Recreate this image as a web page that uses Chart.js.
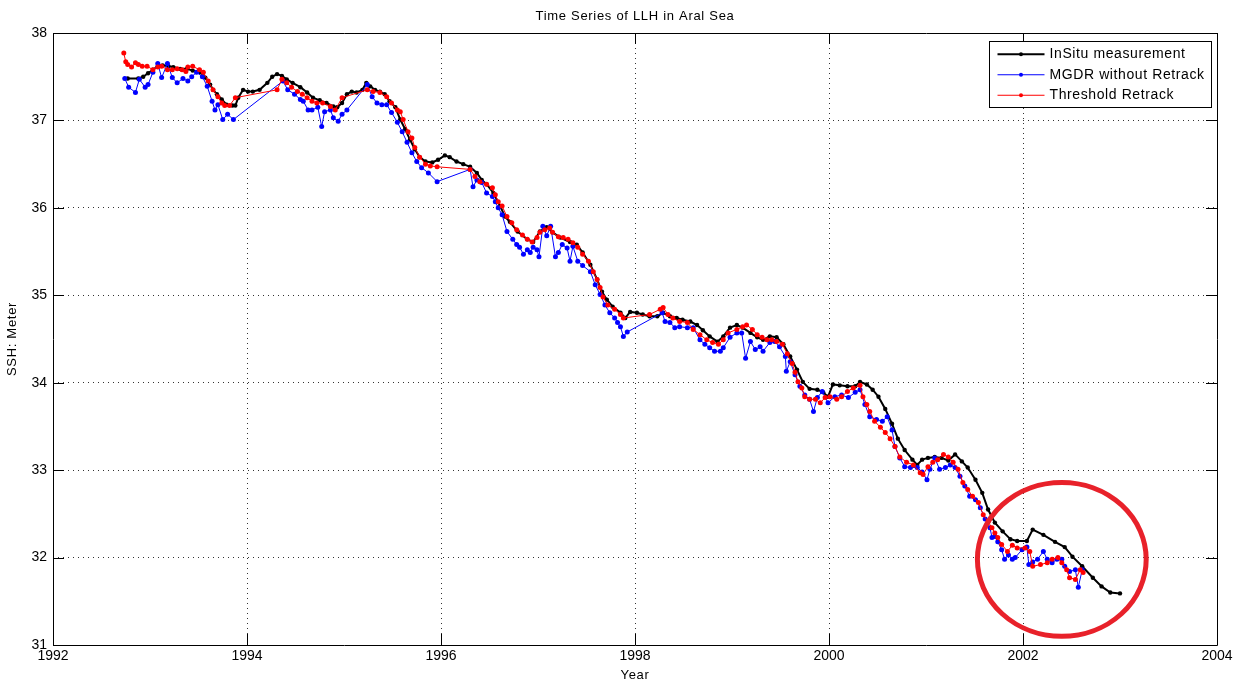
<!DOCTYPE html>
<html>
<head>
<meta charset="utf-8">
<title>Time Series of LLH in Aral Sea</title>
<script src="https://cdn.jsdelivr.net/npm/chart.js@4/dist/chart.umd.min.js"></script>
<style>
  html, body { margin: 0; padding: 0; background: #ffffff; }
  #wrap { width: 1239px; height: 681px; }
</style>
</head>
<body>
<div id="wrap"><canvas id="chart" width="1239" height="681"></canvas></div>
<script>
// ---- In-situ gauge record (decimal year, sea surface height in m) ----
const insituYear = [
  1992.77,1992.88,1992.93,1992.98,1993.03,1993.08,1993.13,1993.19,1993.24,1993.31,
  1993.38,1993.44,1993.52,1993.57,1993.62,1993.65,1993.69,1993.74,1993.79,1993.85,
  1993.88,1993.91,1993.96,1994.01,1994.06,1994.13,1994.21,1994.26,1994.31,1994.36,
  1994.41,1994.47,1994.55,1994.62,1994.68,1994.75,1994.82,1994.89,1994.93,1994.98,
  1995.03,1995.08,1995.13,1995.19,1995.23,1995.27,1995.32,1995.37,1995.42,1995.47,
  1995.53,1995.58,1995.63,1995.68,1995.73,1995.78,1995.84,1995.91,1995.97,1996.04,
  1996.09,1996.16,1996.23,1996.30,1996.37,1996.42,1996.47,1996.54,1996.61,1996.66,
  1996.71,1996.79,1996.89,1996.95,1997.02,1997.09,1997.15,1997.23,1997.33,1997.40,
  1997.46,1997.54,1997.61,1997.66,1997.71,1997.77,1997.85,1997.90,1997.95,1998.02,
  1998.08,1998.15,1998.23,1998.29,1998.36,1998.43,1998.49,1998.57,1998.64,1998.70,
  1998.77,1998.85,1998.91,1998.98,1999.05,1999.11,1999.19,1999.26,1999.32,1999.39,
  1999.46,1999.53,1999.60,1999.67,1999.73,1999.80,1999.88,1999.94,1999.99,2000.04,
  2000.11,2000.19,2000.27,2000.32,2000.39,2000.45,2000.51,2000.58,2000.65,2000.71,
  2000.78,2000.86,2000.91,2000.96,2001.02,2001.09,2001.16,2001.23,2001.30,2001.37,
  2001.43,2001.51,2001.58,2001.64,2001.71,2001.79,2001.87,2001.94,2002.04,2002.10,
  2002.21,2002.33,2002.43,2002.51,2002.61,2002.72,2002.81,2002.90,2003.00
];
const insituSSH = [
  37.48,37.48,37.50,37.54,37.58,37.62,37.63,37.62,37.61,37.59,
  37.59,37.57,37.55,37.49,37.41,37.35,37.30,37.24,37.18,37.17,
  37.17,37.26,37.35,37.33,37.33,37.35,37.43,37.50,37.53,37.51,
  37.47,37.43,37.38,37.32,37.26,37.23,37.20,37.16,37.15,37.20,
  37.30,37.33,37.32,37.35,37.43,37.39,37.35,37.33,37.30,37.22,
  37.15,37.01,36.90,36.78,36.67,36.58,36.53,36.52,36.55,36.60,
  36.58,36.53,36.50,36.47,36.40,36.32,36.27,36.17,36.02,35.90,
  35.84,35.73,35.64,35.61,35.73,35.78,35.72,35.66,35.61,35.58,
  35.49,35.35,35.18,35.04,34.95,34.87,34.80,34.74,34.81,34.80,
  34.78,34.76,34.76,34.80,34.76,34.74,34.72,34.70,34.66,34.60,
  34.53,34.47,34.53,34.63,34.66,34.63,34.57,34.52,34.49,34.53,
  34.52,34.44,34.30,34.15,34.01,33.93,33.92,33.89,33.84,33.98,
  33.97,33.96,33.96,34.01,33.98,33.92,33.84,33.70,33.53,33.36,
  33.23,33.12,33.06,33.12,33.14,33.15,33.14,33.11,33.18,33.10,
  33.03,32.89,32.74,32.55,32.40,32.30,32.21,32.19,32.19,32.32,
  32.26,32.18,32.12,32.01,31.90,31.77,31.67,31.60,31.59
];

// ---- Altimeter heights, MGDR without retracking ----
const mgdrYear = [
  1992.74,1992.78,1992.85,1992.89,1992.95,1992.98,1993.03,1993.08,1993.12,1993.18,
  1993.23,1993.28,1993.34,1993.39,1993.43,1993.48,1993.54,1993.59,1993.64,1993.67,
  1993.70,1993.75,1993.80,1993.86,1994.37,1994.42,1994.49,1994.55,1994.58,1994.63,
  1994.67,1994.73,1994.77,1994.80,1994.86,1994.89,1994.94,1994.98,1995.03,1995.24,
  1995.29,1995.34,1995.39,1995.44,1995.49,1995.55,1995.60,1995.65,1995.70,1995.75,
  1995.80,1995.87,1995.96,1996.30,1996.33,1996.37,1996.42,1996.47,1996.53,1996.56,
  1996.59,1996.63,1996.68,1996.74,1996.78,1996.81,1996.85,1996.89,1996.92,1996.95,
  1996.99,1997.01,1997.05,1997.09,1997.13,1997.18,1997.21,1997.25,1997.30,1997.33,
  1997.36,1997.41,1997.46,1997.54,1997.59,1997.64,1997.69,1997.74,1997.79,1997.82,
  1997.85,1997.88,1997.92,1998.28,1998.31,1998.36,1998.41,1998.46,1998.54,1998.60,
  1998.67,1998.72,1998.77,1998.82,1998.88,1998.91,1998.98,1999.05,1999.10,1999.14,
  1999.19,1999.24,1999.29,1999.32,1999.39,1999.44,1999.49,1999.55,1999.56,1999.60,
  1999.65,1999.70,1999.75,1999.80,1999.84,1999.88,1999.93,1999.99,2000.06,2000.13,
  2000.20,2000.27,2000.32,2000.37,2000.42,2000.49,2000.55,2000.60,2000.65,2000.68,
  2000.73,2000.78,2000.84,2000.91,2000.96,2001.01,2001.04,2001.09,2001.14,2001.20,
  2001.25,2001.30,2001.35,2001.40,2001.45,2001.51,2001.56,2001.61,2001.66,2001.68,
  2001.71,2001.74,2001.78,2001.81,2001.85,2001.89,2001.92,2001.99,2002.04,2002.06,
  2002.10,2002.15,2002.21,2002.25,2002.30,2002.35,2002.40,2002.43,2002.48,2002.54,
  2002.57,2002.61
];
const mgdrSSH = [
  37.48,37.38,37.32,37.47,37.38,37.41,37.55,37.65,37.49,37.65,
  37.49,37.43,37.48,37.45,37.50,37.55,37.50,37.39,37.22,37.12,
  37.18,37.01,37.07,37.01,37.45,37.35,37.30,37.24,37.22,37.12,
  37.12,37.15,36.93,37.10,37.12,37.03,36.99,37.07,37.12,37.41,
  37.27,37.20,37.18,37.18,37.09,36.98,36.87,36.75,36.63,36.53,
  36.46,36.40,36.30,36.44,36.24,36.32,36.29,36.17,36.13,36.07,
  36.00,35.92,35.73,35.64,35.58,35.55,35.47,35.52,35.49,35.55,
  35.52,35.44,35.79,35.68,35.79,35.44,35.49,35.58,35.54,35.39,
  35.56,35.39,35.34,35.27,35.12,35.01,34.89,34.80,34.74,34.69,
  34.64,34.53,34.58,34.80,34.70,34.69,34.63,34.64,34.63,34.63,
  34.49,34.44,34.40,34.36,34.36,34.40,34.52,34.57,34.57,34.28,
  34.47,34.38,34.41,34.36,34.46,34.47,34.41,34.30,34.13,34.24,
  34.09,33.96,33.86,33.81,33.67,33.83,33.90,33.77,33.84,33.86,
  33.83,33.89,33.92,33.75,33.61,33.58,33.56,33.61,33.46,33.27,
  33.14,33.04,33.03,33.03,32.98,32.89,33.01,33.14,33.01,33.03,
  33.06,33.03,32.93,32.82,32.70,32.66,32.57,32.44,32.34,32.23,
  32.24,32.18,32.09,31.98,32.03,31.98,32.00,32.09,32.12,31.92,
  31.95,31.98,32.07,31.98,31.94,31.98,31.98,31.90,31.84,31.86,
  31.66,31.86
];

// ---- Altimeter heights after threshold retracking ----
const thresholdYear = [
  1992.73,1992.75,1992.77,1992.81,1992.85,1992.88,1992.92,1992.97,1993.03,1993.08,
  1993.12,1993.18,1993.23,1993.28,1993.33,1993.37,1993.39,1993.44,1993.51,1993.55,
  1993.60,1993.65,1993.70,1993.74,1993.77,1993.82,1993.88,1994.31,1994.36,1994.41,
  1994.46,1994.52,1994.57,1994.62,1994.67,1994.72,1994.78,1994.86,1994.91,1994.98,
  1995.24,1995.30,1995.37,1995.44,1995.49,1995.55,1995.58,1995.61,1995.66,1995.70,
  1995.73,1995.78,1995.84,1995.89,1995.96,1996.30,1996.35,1996.40,1996.47,1996.53,
  1996.56,1996.59,1996.63,1996.68,1996.73,1996.78,1996.84,1996.89,1996.94,1996.99,
  1997.02,1997.07,1997.12,1997.15,1997.21,1997.26,1997.31,1997.36,1997.41,1997.46,
  1997.52,1997.57,1997.61,1997.64,1997.67,1997.72,1997.79,1997.85,1997.88,1998.15,
  1998.26,1998.29,1998.34,1998.39,1998.46,1998.54,1998.60,1998.67,1998.74,1998.80,
  1998.86,1998.91,1998.96,1999.05,1999.11,1999.15,1999.21,1999.26,1999.31,1999.36,
  1999.41,1999.46,1999.52,1999.57,1999.62,1999.65,1999.68,1999.72,1999.75,1999.80,
  1999.86,1999.91,1999.96,2000.01,2000.08,2000.13,2000.19,2000.25,2000.32,2000.35,
  2000.39,2000.42,2000.47,2000.53,2000.58,2000.63,2000.68,2000.73,2000.80,2000.87,
  2000.94,2000.97,2001.02,2001.07,2001.12,2001.18,2001.23,2001.28,2001.33,2001.38,
  2001.43,2001.48,2001.54,2001.59,2001.64,2001.68,2001.71,2001.74,2001.78,2001.84,
  2001.89,2001.94,2002.02,2002.07,2002.10,2002.18,2002.25,2002.30,2002.36,2002.40,
  2002.45,2002.48,2002.54,2002.59,2002.62
];
const thresholdSSH = [
  37.77,37.67,37.64,37.61,37.66,37.64,37.62,37.62,37.58,37.61,
  37.62,37.58,37.58,37.59,37.58,37.56,37.61,37.62,37.58,37.55,
  37.45,37.35,37.27,37.20,37.17,37.17,37.26,37.35,37.47,37.43,
  37.38,37.33,37.30,37.26,37.22,37.20,37.20,37.16,37.12,37.26,
  37.35,37.33,37.32,37.27,37.20,37.12,37.10,37.01,36.87,36.80,
  36.69,36.58,36.50,36.48,36.47,36.44,36.36,36.30,36.27,36.23,
  36.15,36.07,36.02,35.90,35.83,35.75,35.69,35.64,35.61,35.66,
  35.72,35.75,35.77,35.72,35.67,35.66,35.64,35.60,35.55,35.47,
  35.39,35.27,35.18,35.09,34.98,34.89,34.84,34.78,34.74,34.78,
  34.84,34.86,34.78,34.74,34.70,34.69,34.61,34.55,34.49,34.46,
  34.44,34.49,34.57,34.61,34.64,34.66,34.61,34.55,34.52,34.49,
  34.49,34.47,34.44,34.33,34.22,34.12,34.01,33.94,33.84,33.81,
  33.81,33.77,33.83,33.84,33.81,33.84,33.90,33.94,33.97,33.84,
  33.75,33.67,33.56,33.49,33.43,33.36,33.27,33.15,33.09,33.06,
  32.97,32.95,33.04,33.09,33.12,33.18,33.15,33.09,33.01,32.86,
  32.78,32.70,32.63,32.49,32.41,32.34,32.28,32.23,32.15,32.07,
  32.14,32.11,32.11,32.07,31.90,31.92,31.94,31.98,32.00,31.94,
  31.86,31.77,31.75,31.86,31.83
];

// ---- Axis ticks and labels ----
const yearTicks = [1992, 1994, 1996, 1998, 2000, 2002, 2004];
const sshTicks = [31, 32, 33, 34, 35, 36, 37, 38];
const chartTitle = 'Time Series of LLH in Aral Sea';
const xTitle = 'Year';
const yTitle = 'SSH: Meter';

// ---- Highlighted period (ellipse centre and half-axes, in data units) ----
const highlightCentre = { year: 2002.40, ssh: 31.98 };
const highlightRadius = { year: 0.87, ssh: 0.88 };

const FONT = '"Liberation Sans", Arial, Helvetica, sans-serif';

function pairs(xs, ys) {
  return xs.map((x, i) => ({ x: x, y: ys[i] }));
}

// Axes box with inward tick marks on all four sides
const boxPlugin = {
  id: 'boxPlugin',
  afterDatasetsDraw(chart) {
    const { ctx, chartArea: a, scales } = chart;
    const len = 11;
    ctx.save();
    ctx.strokeStyle = '#000';
    ctx.lineWidth = 1;
    ctx.setLineDash([]);
    ctx.beginPath();
    ctx.rect(Math.round(a.left) + 0.5, Math.round(a.top) + 0.5,
             Math.round(a.right - a.left), Math.round(a.bottom - a.top));
    scales.x.ticks.forEach(t => {
      const px = Math.round(scales.x.getPixelForValue(t.value)) + 0.5;
      ctx.moveTo(px, a.bottom); ctx.lineTo(px, a.bottom - len);
      ctx.moveTo(px, a.top); ctx.lineTo(px, a.top + len);
    });
    scales.y.ticks.forEach(t => {
      const py = Math.round(scales.y.getPixelForValue(t.value)) + 0.5;
      ctx.moveTo(a.left, py); ctx.lineTo(a.left + len, py);
      ctx.moveTo(a.right, py); ctx.lineTo(a.right - len, py);
    });
    ctx.stroke();
    ctx.restore();
  }
};

// Ellipse marking the last part of the record
const highlightPlugin = {
  id: 'highlightPlugin',
  afterDatasetsDraw(chart) {
    const { ctx, scales } = chart;
    const cx = scales.x.getPixelForValue(highlightCentre.year);
    const cy = scales.y.getPixelForValue(highlightCentre.ssh);
    const rx = scales.x.getPixelForValue(highlightCentre.year + highlightRadius.year) - cx;
    const ry = cy - scales.y.getPixelForValue(highlightCentre.ssh + highlightRadius.ssh);
    ctx.save();
    ctx.strokeStyle = '#e8212a';
    ctx.lineWidth = 5;
    ctx.beginPath();
    ctx.ellipse(cx, cy, rx, ry, 0, 0, Math.PI * 2);
    ctx.stroke();
    ctx.restore();
  }
};

// Title, axis titles and legend box
const annotatePlugin = {
  id: 'annotatePlugin',
  afterDraw(chart) {
    const { ctx, chartArea: a } = chart;
    ctx.save();
    ctx.fillStyle = '#000';
    ctx.font = '13px ' + FONT;
    ctx.letterSpacing = '0.7px';
    ctx.textAlign = 'center';
    ctx.textBaseline = 'middle';
    ctx.fillText(chartTitle, (a.left + a.right) / 2, 16);
    ctx.fillText(xTitle, (a.left + a.right) / 2, 675);
    ctx.save();
    ctx.translate(12, (a.top + a.bottom) / 2);
    ctx.rotate(-Math.PI / 2);
    ctx.fillText(yTitle, 0, 0);
    ctx.restore();

    const sets = chart.data.datasets;
    ctx.font = '14px ' + FONT;
    ctx.letterSpacing = '0.6px';
    const textW = Math.max(...sets.map(d => ctx.measureText(d.label).width));
    const sample = 47, gap = 5, padL = 8, padR = 7, rowH = 20.5;
    const w = Math.round(padL + sample + gap + textW + padR);
    const h = Math.round(rowH * sets.length + 4);
    const x0 = Math.round(a.right - 6 - w) + 0.5;
    const y0 = Math.round(a.top + 8) + 0.5;
    ctx.fillStyle = '#fff';
    ctx.fillRect(x0, y0, w, h);
    ctx.strokeStyle = '#000';
    ctx.lineWidth = 1;
    ctx.strokeRect(x0, y0, w, h);
    ctx.textAlign = 'left';
    sets.forEach((d, i) => {
      const yy = y0 + 2 + rowH * (i + 0.5) + 0.5;
      ctx.strokeStyle = d.borderColor;
      ctx.lineWidth = d.borderWidth;
      ctx.beginPath();
      ctx.moveTo(x0 + padL, yy);
      ctx.lineTo(x0 + padL + sample, yy);
      ctx.stroke();
      ctx.fillStyle = d.pointBackgroundColor;
      ctx.beginPath();
      ctx.arc(x0 + padL + sample / 2, yy, 2, 0, Math.PI * 2);
      ctx.fill();
      ctx.fillStyle = '#000';
      ctx.fillText(d.label, x0 + padL + sample + gap, yy);
    });
    ctx.restore();
  }
};

const series = (label, xs, ys, color, width, radius, order) => ({
  label: label,
  data: pairs(xs, ys),
  borderColor: color,
  backgroundColor: color,
  pointBackgroundColor: color,
  pointBorderColor: color,
  borderWidth: width,
  pointRadius: radius,
  pointBorderWidth: 0,
  pointHoverRadius: radius,
  tension: 0,
  fill: false,
  order: order
});

new Chart(document.getElementById('chart'), {
  type: 'line',
  data: {
    datasets: [
      series('InSitu measurement', insituYear, insituSSH, '#000000', 2, 2.2, 3),
      series('MGDR without Retrack', mgdrYear, mgdrSSH, '#0000ff', 1, 2.5, 2),
      series('Threshold Retrack', thresholdYear, thresholdSSH, '#ff0000', 1, 2.5, 1)
    ]
  },
  options: {
    responsive: false,
    animation: false,
    devicePixelRatio: 1,
    layout: { padding: { top: 33, right: 22, left: 0, bottom: 0 } },
    plugins: {
      legend: { display: false },
      title: { display: false },
      tooltip: { enabled: false }
    },
    scales: {
      x: {
        type: 'linear',
        min: 1992,
        max: 2004,
        afterBuildTicks: s => { s.ticks = yearTicks.map(v => ({ value: v })); },
        afterFit: s => { s.height = 36; },
        ticks: {
          autoSkip: false,
          maxRotation: 0,
          padding: 3,
          color: '#000',
          font: { family: FONT, size: 14 },
          callback: v => String(v)
        },
        grid: { color: '#333', lineWidth: 1, drawTicks: false },
        border: { display: false, dash: [1, 4] }
      },
      y: {
        type: 'linear',
        min: 31,
        max: 38,
        afterBuildTicks: s => { s.ticks = sshTicks.map(v => ({ value: v })); },
        afterFit: s => { s.width = 53; },
        ticks: {
          autoSkip: false,
          padding: 6,
          color: '#000',
          font: { family: FONT, size: 14 },
          callback: v => String(v)
        },
        grid: { color: '#333', lineWidth: 1, drawTicks: false },
        border: { display: false, dash: [1, 4] }
      }
    }
  },
  plugins: [boxPlugin, highlightPlugin, annotatePlugin]
});
</script>
</body>
</html>
